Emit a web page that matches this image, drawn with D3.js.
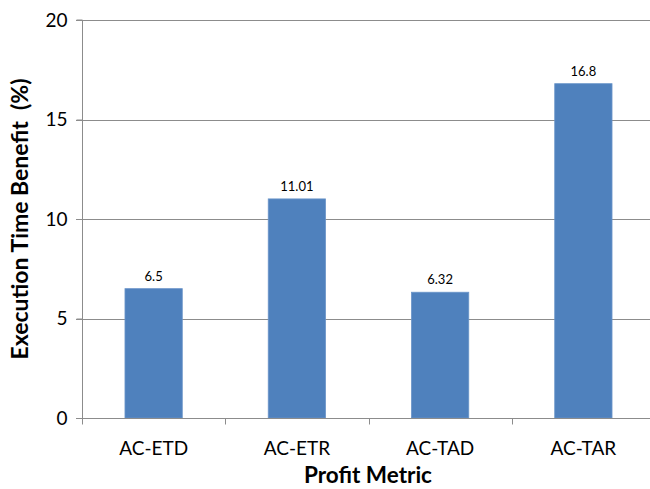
<!DOCTYPE html>
<html>
<head>
<meta charset="utf-8">
<script src="https://cdn.jsdelivr.net/npm/d3@7"></script>
<style>
  html, body { margin: 0; padding: 0; background: #fff; }
  svg { display: block; font-family: Lato, "Open Sans", sans-serif; }
</style>
</head>
<body>
<div id="chart"></div>
<script>
// Execution time benefit per profit metric
const categories = ["AC-ETD", "AC-ETR", "AC-TAD", "AC-TAR"];
const values = [6.5, 11.01, 6.32, 16.8];
const valueLabels = ["6.5", "11.01", "6.32", "16.8"];
const yTicks = [0, 5, 10, 15, 20];

const width = 650, height = 489;
const margin = { left: 82, top: 20, right: -5, bottom: 71 };

const svg = d3.select("#chart").append("svg")
  .attr("width", width).attr("height", height);

const x = d3.scaleBand()
  .domain(categories)
  .range([margin.left, width - margin.right])
  .paddingInner(0.6)
  .paddingOuter(0.3);

const y = d3.scaleLinear()
  .domain([0, 20])
  .range([height - margin.bottom, margin.top]);

const gridColor = "#8c8c8c";

// horizontal gridlines
svg.append("g")
  .selectAll("line")
  .data(yTicks.filter(d => d > 0))
  .join("line")
  .attr("x1", margin.left - 6)
  .attr("x2", width)
  .attr("y1", d => Math.round(y(d)) + 0.5)
  .attr("y2", d => Math.round(y(d)) + 0.5)
  .attr("stroke", gridColor)
  .attr("stroke-width", 1);

// bars
svg.append("g")
  .selectAll("rect")
  .data(values)
  .join("rect")
  .attr("x", (d, i) => x(categories[i]))
  .attr("width", x.bandwidth())
  .attr("y", d => y(d))
  .attr("height", d => y(0) - y(d))
  .attr("fill", "#4f81bd")
  .attr("stroke", "#6b95c9")
  .attr("stroke-width", 0.8);

// value labels
svg.append("g")
  .selectAll("text")
  .data(values)
  .join("text")
  .attr("x", (d, i) => x(categories[i]) + x.bandwidth() / 2)
  .attr("y", d => y(d) - 8)
  .attr("text-anchor", "middle")
  .attr("font-size", 13)
  .attr("fill", "#000")
  .text((d, i) => valueLabels[i]);

// y axis
const yAxis = svg.append("g")
  .attr("transform", `translate(${margin.left + 0.5},0)`)
  .call(d3.axisLeft(y).tickValues(yTicks).tickSize(6).tickPadding(9).tickFormat(d3.format("d")));
yAxis.select(".domain").attr("stroke", gridColor).attr("d", `M-6,${y(20)}H0V${y(0)}`);
yAxis.selectAll(".tick line").attr("stroke", gridColor);
yAxis.selectAll(".tick text")
  .attr("font-size", 19)
  .attr("font-family", "Lato, sans-serif")
  .attr("fill", "#000");

// x axis
const bandStep = x.step();
const xAxis = svg.append("g")
  .attr("transform", `translate(0,${Math.round(y(0)) + 0.5})`);
xAxis.append("line")
  .attr("x1", margin.left - 6).attr("x2", width)
  .attr("stroke", gridColor);
// category boundary ticks
xAxis.selectAll("line.sep")
  .data(d3.range(categories.length + 1))
  .join("line")
  .attr("class", "sep")
  .attr("x1", i => Math.round(x(categories[0]) - x.paddingOuter() * bandStep + i * bandStep) + 0.5)
  .attr("x2", i => Math.round(x(categories[0]) - x.paddingOuter() * bandStep + i * bandStep) + 0.5)
  .attr("y1", 0).attr("y2", 6)
  .attr("stroke", gridColor);
xAxis.selectAll("text")
  .data(categories)
  .join("text")
  .attr("x", d => x(d) + x.bandwidth() / 2)
  .attr("y", 36)
  .attr("text-anchor", "middle")
  .attr("font-size", 19)
  .attr("fill", "#000")
  .text(d => d);

// axis titles
svg.append("text")
  .attr("x", 368)
  .attr("y", 483)
  .attr("text-anchor", "middle")
  .attr("font-size", 22.5)
  .attr("font-weight", "bold")
  .attr("fill", "#000")
  .text("Profit Metric");

svg.append("text")
  .attr("transform", "translate(28,219) rotate(-90)")
  .attr("text-anchor", "middle")
  .attr("font-size", 23)
  .attr("font-weight", "bold")
  .attr("fill", "#000")
  .style("white-space", "pre")
  .text("Execution Time Benefit  (%)");
</script>
</body>
</html>
